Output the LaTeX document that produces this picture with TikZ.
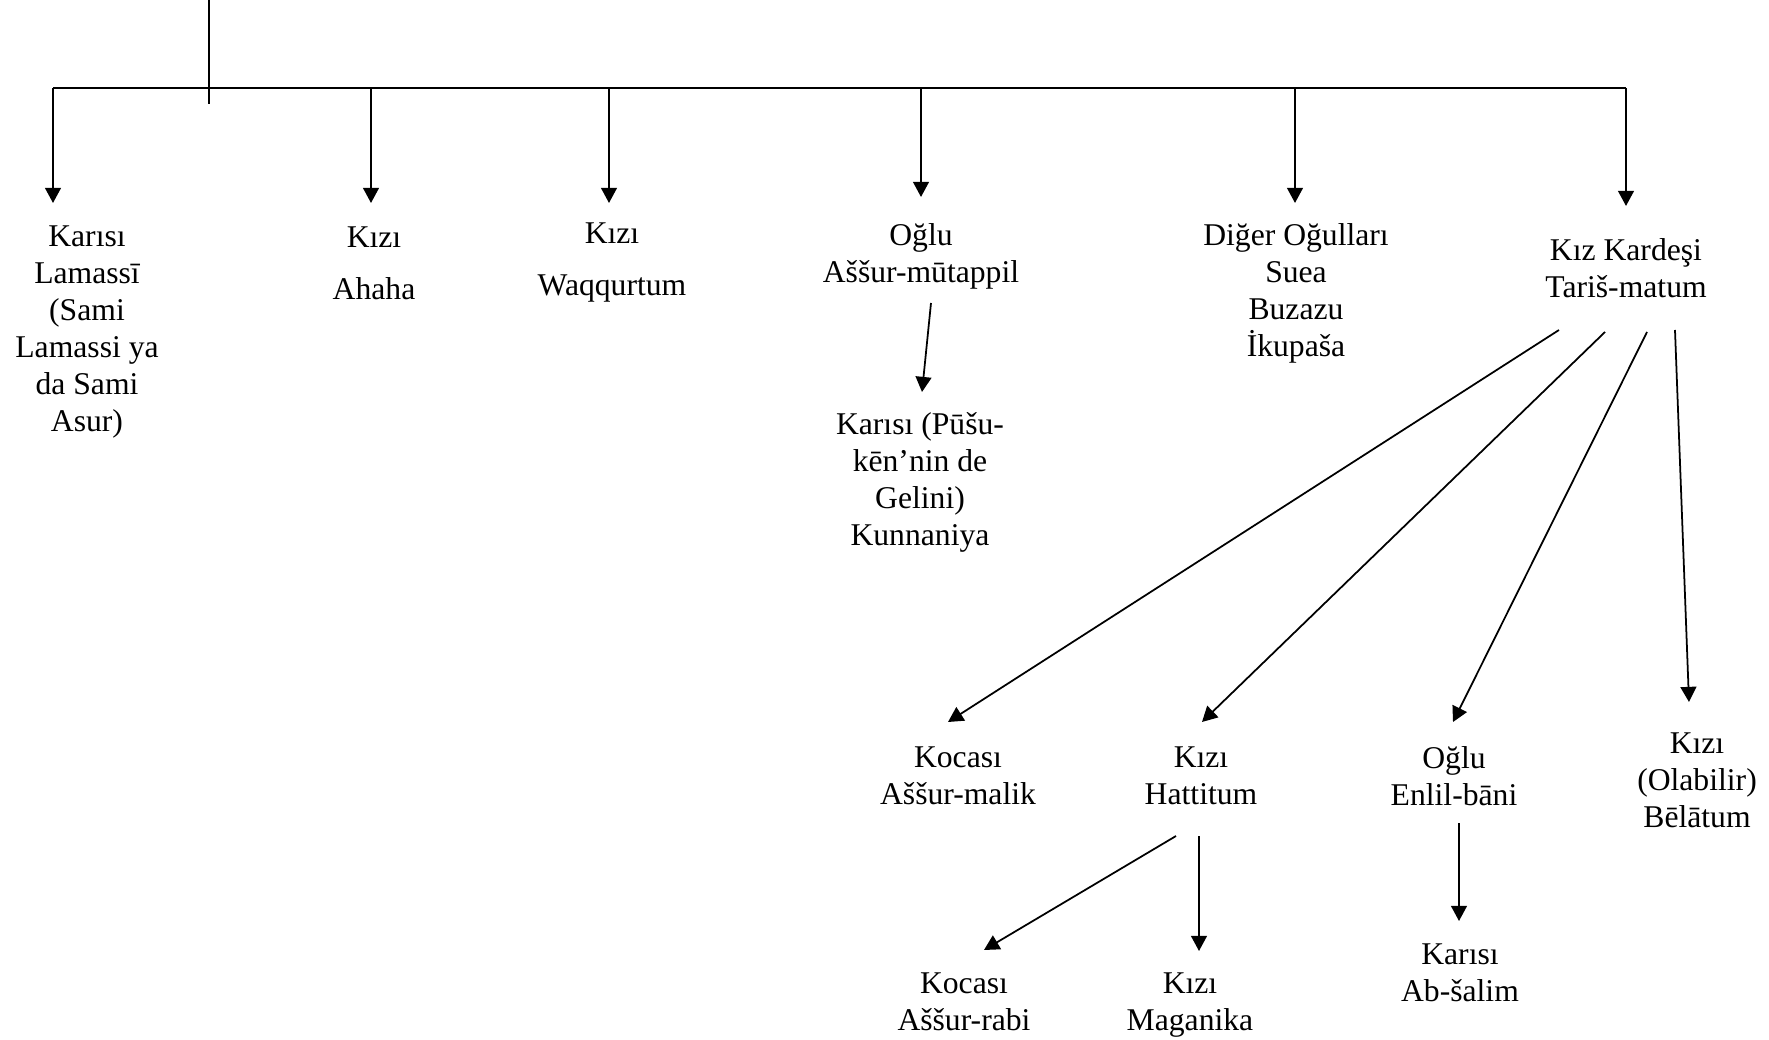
\documentclass[tikz,border=0pt]{standalone}
\usepackage{fontspec}
\setmainfont{Liberation Serif}
\usetikzlibrary{arrows.meta}
\usetikzlibrary{calc}

\begin{document}
\begin{tikzpicture}[
    x=0.01cm, y=-0.01cm,
    person/.style={align=center, inner sep=0, anchor=north, font=\fontsize{9}{10.5}\selectfont},
    line/.style={line width=0.5pt},
    arrow/.style={line, >={Triangle[length=4.3pt,width=4.5pt]}},
    post/.style={arrow, ->}
  ]
  \useasboundingbox (0,0) rectangle (1769,1040);

  \node[person] (wife) at (87,225) {Karısı\\Lamassī\\(Sami\\Lamassi ya\\da Sami\\Asur)};
  \node[person] (ahaha) at (374,226) {Kızı\\[4.4pt]Ahaha};
  \node[person] (waqqurtum) at (612,222) {Kızı\\[4.4pt]Waqqurtum};
  \node[person] (son) at (921,223) {Oğlu\\Aššur-mūtappil};
  \node[person] (sonwife) at (920,412) {Karısı (Pūšu-\\kēn’nin de\\Gelini)\\Kunnaniya};
  \node[person] (others) at (1296,223) {Diğer Oğulları\\Suea\\Buzazu\\İkupaša};
  \node[person] (sister) at (1626,238) {Kız Kardeşi\\Tariš-matum};
  \node[person] (husband) at (958,746) {Kocası\\Aššur-malik};
  \node[person] (hattitum) at (1201,746) {Kızı\\Hattitum};
  \node[person] (enlil) at (1454,746) {Oğlu\\Enlil-bāni};
  \node[person] (belatum) at (1697,732) {Kızı\\(Olabilir)\\Bēlātum};
  \node[person] (rabi) at (964,972) {Kocası\\Aššur-rabi};
  \node[person] (maganika) at (1190,972) {Kızı\\Maganika};
  \node[person] (absalim) at (1460,943) {Karısı\\Ab-šalim};

  \coordinate (root) at (209,0);
  \coordinate (b1) at (53,88);
  \coordinate (b2) at (371,88);
  \coordinate (b3) at (609,88);
  \coordinate (b4) at (921,88);
  \coordinate (b5) at (1295,88);
  \coordinate (b6) at (1626,88);
  \draw[line] (root) -- ++(0,104);
  \draw[line] (b1) -- (b6);
  \foreach \b/\n/\g in {b1/wife/2.2mm, b2/ahaha/2.3mm, b3/waqqurtum/1.9mm,
      b4/son/2.6mm, b5/others/2mm, b6/sister/3.2mm}
    \draw[post, shorten >=\g] (\b) -- (\b |- \n.north);

  \draw[post] ($(son.north)+(10,80)$) -- ($(sonwife.north)+(2,-20)$);

  \draw[post] ($(sister.north)+(-67,92)$) -- ($(husband.north)+(-10,-24)$);
  \draw[post] ($(sister.north)+(-21,94)$) -- ($(hattitum.north)+(1,-24)$);
  \draw[post] ($(sister.north)+(21,94)$) -- ($(enlil.north)+(-1,-24)$);
  \draw[post] ($(sister.north)+(49,92)$) -- ($(belatum.north)+(-8,-30)$);

  \draw[post] ($(hattitum.north)+(-25,90)$) -- ($(rabi.north)+(20,-22)$);
  \draw[post] ($(hattitum.north)+(-2,90)$) -- ($(maganika.north)+(9,-21)$);
  \draw[post] ($(enlil.north)+(5,77)$) -- ($(absalim.north)+(-1,-22)$);
\end{tikzpicture}
\end{document}
